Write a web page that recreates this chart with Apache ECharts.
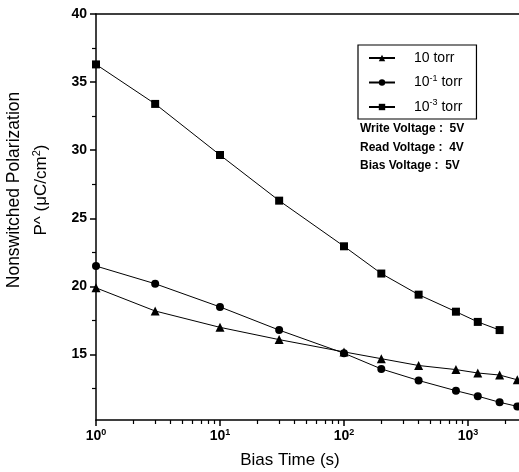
<!DOCTYPE html>
<html><head><meta charset="utf-8">
<script src="https://cdn.jsdelivr.net/npm/echarts@6/dist/echarts.min.js"></script>
<style>html,body{margin:0;padding:0;background:#fff}#c{width:519px;height:472px}</style>
</head><body><div id="c"></div>
<script>
// Data
const biasTime = [1, 3, 10, 30, 100, 200, 400, 800, 1200, 1800, 2500];
const p10torr = [19.9, 18.2, 17.0, 16.1, 15.2, 14.7, 14.2, 13.9, 13.65, 13.5, 13.15];
const p1e1torr = [21.5, 20.2, 18.5, 16.8, 15.1, 13.95, 13.1, 12.35, 11.95, 11.5, 11.2];
const biasTime3 = [1, 3, 10, 30, 100, 200, 400, 800, 1200, 1800];
const p1e3torr = [36.3, 33.4, 29.65, 26.3, 22.95, 20.95, 19.4, 18.15, 17.4, 16.8];
const seriesNames = ['10 torr', '10^-1 torr', '10^-3 torr'];
const xMajorTicks = [1, 10, 100, 1000];
const xMinorTicks = [2,3,4,5,6,7,8,9,20,30,40,50,60,70,80,90,200,300,400,500,600,700,800,900,2000];
const yMajorTicks = [15, 20, 25, 30, 35, 40];
const yMinorTicks = [12.5, 17.5, 22.5, 27.5, 32.5, 37.5];
const annotations = ['Write Voltage :  5V', 'Read Voltage :  4V', 'Bias Voltage :  5V'];

const FONT = "'Liberation Sans', Arial, sans-serif";
const X_MIN = 1, X_MAX = 2580, Y_MIN = 10.2, Y_MAX = 40;
const gridPos = { left: 96, top: 14, right: 0, bottom: 52 };

function pairs(xs, ys) { return xs.map((x, i) => [x, ys[i]]); }
const legendLabel = {
  '10 torr': '{g|}10 torr',
  '10^-1 torr': '{g|}10{sup|-1} torr',
  '10^-3 torr': '{g|}10{sup|-3} torr'
};

const chart = echarts.init(document.getElementById('c'), null, { renderer: 'canvas' });
const lineStyle = { color: '#000', width: 1 };
chart.setOption({
  animation: false,
  backgroundColor: '#fff',
  grid: [Object.assign({ containLabel: false }, gridPos), Object.assign({ containLabel: false }, gridPos)],
  xAxis: [
    {
      type: 'log', logBase: 10, min: X_MIN, max: X_MAX, gridIndex: 0, position: 'bottom',
      axisLine: { show: true, lineStyle: { color: '#000', width: 1.5 } },
      axisTick: { show: true, inside: false, length: 6, customValues: xMajorTicks, lineStyle: { color: '#000', width: 1.5 } },
      axisLabel: {
        customValues: xMajorTicks, margin: 8, color: '#000',
        fontFamily: FONT, fontWeight: 'bold', fontSize: 14,
        formatter: v => '10{sup|' + Math.round(Math.log10(v)) + '}',
        rich: { sup: { fontSize: 9, fontWeight: 'bold', fontFamily: FONT, color: '#000', verticalAlign: 'top', padding: [0, 0, 8, 0] } }
      },
      splitLine: { show: false }, minorTick: { show: false }
    },
    {
      type: 'log', logBase: 10, min: X_MIN, max: X_MAX, gridIndex: 0, position: 'top',
      axisLine: { show: true, lineStyle: { color: '#000', width: 1.5 } },
      axisTick: { show: false }, axisLabel: { show: false }, splitLine: { show: false }
    },
    {
      type: 'log', logBase: 10, min: X_MIN, max: X_MAX, gridIndex: 1, position: 'bottom',
      axisLine: { show: false },
      axisTick: { show: true, inside: false, length: 4, customValues: xMinorTicks, lineStyle: { color: '#000', width: 1.2 } },
      axisLabel: { show: false }, splitLine: { show: false }
    }
  ],
  yAxis: [
    {
      type: 'value', min: Y_MIN, max: Y_MAX, gridIndex: 0, position: 'left',
      axisLine: { show: true, lineStyle: { color: '#000', width: 1.5 } },
      axisTick: { show: true, inside: false, length: 6, customValues: yMajorTicks, lineStyle: { color: '#000', width: 1.5 } },
      axisLabel: { customValues: yMajorTicks, margin: 9, color: '#000', fontFamily: FONT, fontWeight: 'bold', fontSize: 14 },
      splitLine: { show: false }
    },
    {
      type: 'value', min: Y_MIN, max: Y_MAX, gridIndex: 1, position: 'left',
      axisLine: { show: false },
      axisTick: { show: true, inside: false, length: 4, customValues: yMinorTicks, lineStyle: { color: '#000', width: 1.2 } },
      axisLabel: { show: false }, splitLine: { show: false }
    }
  ],
  legend: {
    orient: 'vertical', left: 358, top: 45,
    padding: [6, 14, 5, 10],
    borderColor: '#000', borderWidth: 1.2,
    itemWidth: 26, itemHeight: 8, itemGap: 9,
    data: seriesNames,
    formatter: name => legendLabel[name],
    textStyle: {
      color: '#000', fontFamily: FONT, fontSize: 14,
      rich: {
        g: { width: 14 },
        sup: { fontSize: 9, fontFamily: FONT, color: '#000', verticalAlign: 'top', padding: [0, 0, 8, 0] }
      }
    }
  },
  series: [
    { name: seriesNames[0], type: 'line', xAxisIndex: 0, yAxisIndex: 0, data: pairs(biasTime, p10torr),
      symbol: 'triangle', symbolSize: 9, itemStyle: { color: '#000' }, lineStyle },
    { name: seriesNames[1], type: 'line', xAxisIndex: 0, yAxisIndex: 0, data: pairs(biasTime, p1e1torr),
      symbol: 'circle', symbolSize: 8, itemStyle: { color: '#000' }, lineStyle },
    { name: seriesNames[2], type: 'line', xAxisIndex: 0, yAxisIndex: 0, data: pairs(biasTime3, p1e3torr),
      symbol: 'rect', symbolSize: 8, itemStyle: { color: '#000' }, lineStyle }
  ],
  graphic: [
    { type: 'text', left: 360, top: 123, style: { text: annotations[0], font: "bold 12px " + FONT, fill: '#000' } },
    { type: 'text', left: 360, top: 142, style: { text: annotations[1], font: "bold 12px " + FONT, fill: '#000' } },
    { type: 'text', left: 360, top: 160, style: { text: annotations[2], font: "bold 12px " + FONT, fill: '#000' } },
    { type: 'text', x: 290, y: 460, style: { text: 'Bias Time (s)', font: "17px " + FONT, fill: '#000', align: 'center', verticalAlign: 'middle' } },
    { type: 'text', x: 14, y: 190, rotation: Math.PI / 2, style: { text: 'Nonswitched Polarization', font: "17.5px " + FONT, fill: '#000', align: 'center', verticalAlign: 'middle' } },
    { type: 'text', x: 41, y: 190, rotation: Math.PI / 2, style: {
        text: 'P^ (\u03bcC/cm{sup|2})', font: "17px " + FONT, fill: '#000', align: 'center', verticalAlign: 'middle',
        rich: { sup: { fontSize: 11, fontFamily: FONT, fill: '#000', verticalAlign: 'top', padding: [0, 0, 9, 0] } } } }
  ]
});
</script>
</body></html>
